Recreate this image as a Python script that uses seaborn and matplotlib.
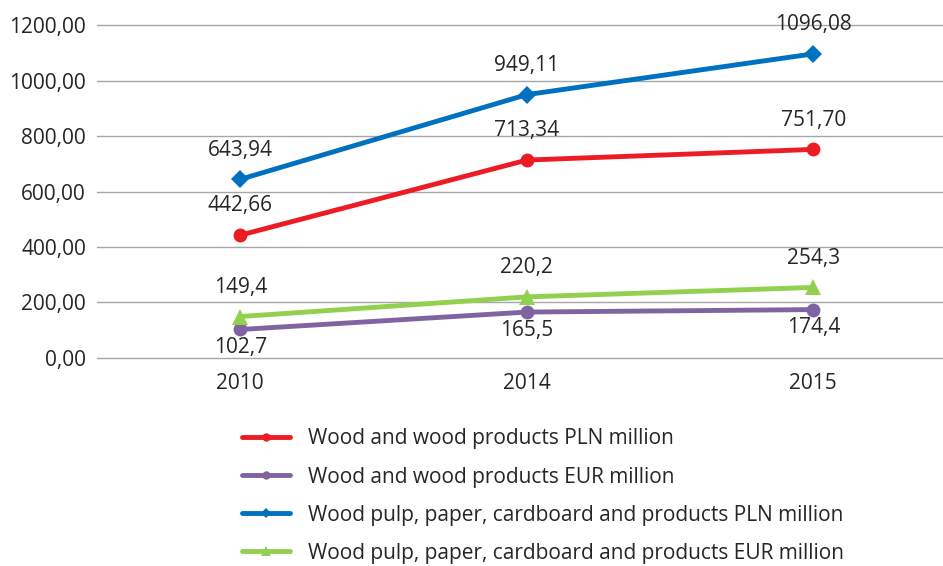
import matplotlib
matplotlib.use("Agg")
import matplotlib.pyplot as plt
import seaborn as sns
import pandas as pd
from matplotlib.ticker import FuncFormatter, MultipleLocator

years = ["2010", "2014", "2015"]
series_names = [
    "Wood and wood products PLN million",
    "Wood and wood products EUR million",
    "Wood pulp, paper, cardboard and products PLN million",
    "Wood pulp, paper, cardboard and products EUR million",
]
wood_pln = [442.66, 713.34, 751.70]
wood_eur = [102.7, 165.5, 174.4]
pulp_pln = [643.94, 949.11, 1096.08]
pulp_eur = [149.4, 220.2, 254.3]
wood_pln_labels = ["442,66", "713,34", "751,70"]
wood_eur_labels = ["102,7", "165,5", "174,4"]
pulp_pln_labels = ["643,94", "949,11", "1096,08"]
pulp_eur_labels = ["149,4", "220,2", "254,3"]

colors = ["#ED1C24", "#8064A2", "#0070C0", "#92D050"]
markers = ["o", "o", "D", "^"]
msizes = [10, 10, 9, 12]
label_pos = ["above", "below", "above", "above"]

sns.set_theme(style="white")
plt.rcParams["font.family"] = ["Open Sans", "DejaVu Sans"]
FS = 15

fig = plt.figure(figsize=(9.43, 5.66), dpi=100)
ax = fig.add_axes([0.1029, 0.3675, 0.9115, 0.5883])

all_vals = [wood_pln, wood_eur, pulp_pln, pulp_eur]
all_labels = [wood_pln_labels, wood_eur_labels, pulp_pln_labels, pulp_eur_labels]

for i, (name, vals) in enumerate(zip(series_names, all_vals)):
    df = pd.DataFrame({"year": years, "value": vals})
    sns.lineplot(data=df, x="year", y="value", ax=ax, color=colors[i],
                 marker=markers[i], markersize=msizes[i], markeredgewidth=0,
                 linewidth=3.5, label=name, sort=False)

for i, vals in enumerate(all_vals):
    for j, v in enumerate(vals):
        off = 21 if label_pos[i] == "above" else -13
        ax.annotate(all_labels[i][j], (j, v), xytext=(0, off), textcoords="offset points",
                    ha="center", va="center", fontsize=FS, color="#262626")

ax.set_xlim(-0.5, 2.5)
ax.set_ylim(0, 1200)
ax.yaxis.set_major_locator(MultipleLocator(200))
ax.yaxis.set_major_formatter(FuncFormatter(lambda v, p: f"{v:.2f}".replace(".", ",")))
ax.grid(axis="y", color="#A6A6A6", linewidth=1.0)
ax.grid(axis="x", visible=False)
for gl in ax.get_ygridlines():
    gl.set_clip_on(False)
ax.set_axisbelow(True)
for s in ax.spines.values():
    s.set_visible(False)
ax.tick_params(axis="y", length=0, labelsize=FS, colors="#262626", pad=8)
ax.tick_params(axis="x", length=0, labelsize=FS, colors="#262626", pad=11)
ax.set_xlabel("")
ax.set_ylabel("")

handles, labels = ax.get_legend_handles_labels()
ax.get_legend().remove()
fig.legend(handles, labels, loc="upper left", bbox_to_anchor=(0.2566, 0.243),
           frameon=False, ncol=1, fontsize=FS, handlelength=2.3, handletextpad=0.85,
           labelspacing=0.82, markerscale=0.6, borderaxespad=0, borderpad=0,
           labelcolor="#262626")

fig.savefig("out.png", dpi=100)
